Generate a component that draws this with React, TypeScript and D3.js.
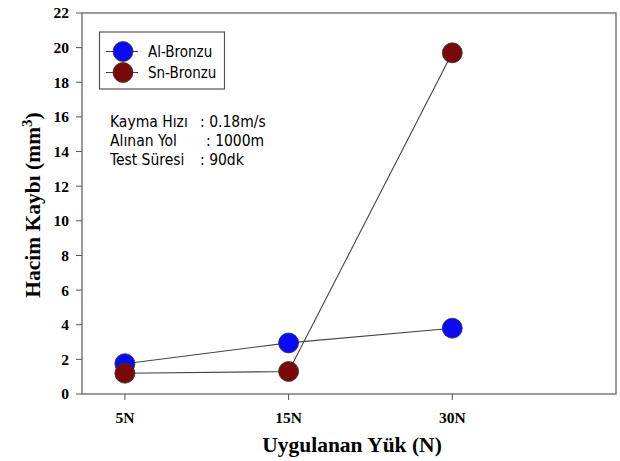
import React from "react";
import * as d3 from "d3";

const categories = ["5N", "15N", "30N"];
const alBronzu = [1.75, 2.95, 3.8];
const snBronzu = [1.2, 1.3, 19.7];
const yTicks = [0, 2, 4, 6, 8, 10, 12, 14, 16, 18, 20, 22];
const seriesNames = ["Al-Bronzu", "Sn-Bronzu"];
const seriesColors = ["#0a0af5", "#7a0a0a"];
const infoLabels = ["Kayma Hızı", "Alınan Yol", "Test Süresi"];
const infoValues = [": 0.18m/s", ": 1000m", ": 90dk"];

export default function App() {
  const W = 620, H = 461;
  const left = 82, right = 616, top = 13, bottom = 394;
  const x = d3.scaleLinear().domain([0.738, 4.0]).range([left, right]);
  const y = d3.scaleLinear().domain([0, 22]).range([bottom, top]);
  const line = d3.line<number>().x((_, i) => x(i + 1)).y((d) => y(d));
  const series = [alBronzu, snBronzu];
  const serif = "'Liberation Serif', 'Times New Roman', serif";
  const sans = "'DejaVu Sans Condensed', 'DejaVu Sans', Verdana, sans-serif";
  return (
    <svg width={W} height={H} style={{ position: "absolute", left: 0, top: 0, background: "#fff" }}>
      <rect x={left} y={top} width={right - left} height={bottom - top} fill="none" stroke="#666" strokeWidth={1.3} />
      {yTicks.map((t) => (
        <g key={t}>
          <line x1={left - 6} x2={left} y1={y(t)} y2={y(t)} stroke="#555" />
          <text x={69} y={y(t)} dy="0.35em" textAnchor="end" fontFamily={serif} fontWeight="bold" fontSize={15.5}>{t}</text>
        </g>
      ))}
      {categories.map((c, i) => (
        <g key={c}>
          <line x1={x(i + 1)} x2={x(i + 1)} y1={bottom} y2={bottom + 6} stroke="#555" />
          <text x={x(i + 1)} y={423} textAnchor="middle" fontFamily={serif} fontWeight="bold" fontSize={15.5}>{c}</text>
        </g>
      ))}
      <text x={352} y={452} textAnchor="middle" fontFamily={serif} fontWeight="bold" fontSize={21.5}>Uygulanan Yük (N)</text>
      <text transform={`translate(40,205) rotate(-90)`} textAnchor="middle" fontFamily={serif} fontWeight="bold" fontSize={21.5}>
        Hacim Kaybı (mm<tspan baselineShift="super" fontSize={15}>3</tspan>)
      </text>
      {series.map((s, k) => (
        <path key={k} d={line(s) || ""} fill="none" stroke="#444" strokeWidth={1.1} />
      ))}
      {series.map((s, k) =>
        s.map((v, i) => (
          <circle key={`${k}-${i}`} cx={x(i + 1)} cy={y(v)} r={10} fill={seriesColors[k]} stroke="#333" strokeWidth={0.8} />
        ))
      )}
      <rect x={99.5} y={32} width={125} height={57} fill="#fff" stroke="#555" strokeWidth={1.2} />
      {seriesNames.map((n, k) => (
        <g key={n}>
          <line x1={106} x2={138} y1={51.5 + k * 21} y2={51.5 + k * 21} stroke="#444" />
          <circle cx={123} cy={51.5 + k * 21} r={10} fill={seriesColors[k]} stroke="#333" strokeWidth={0.8} />
          <text x={148} y={51.5 + k * 21} dy="0.36em" fontFamily={sans} fontSize={15}>{n}</text>
        </g>
      ))}
      {infoLabels.map((l, k) => (
        <g key={l}>
          <text x={110} y={126.5 + k * 19.3} fontFamily={sans} fontSize={15.5}>{l}</text>
          <text x={k === 1 ? 206 : 200} y={126.5 + k * 19.3} fontFamily={sans} fontSize={15.5}>{infoValues[k]}</text>
        </g>
      ))}
    </svg>
  );
}
